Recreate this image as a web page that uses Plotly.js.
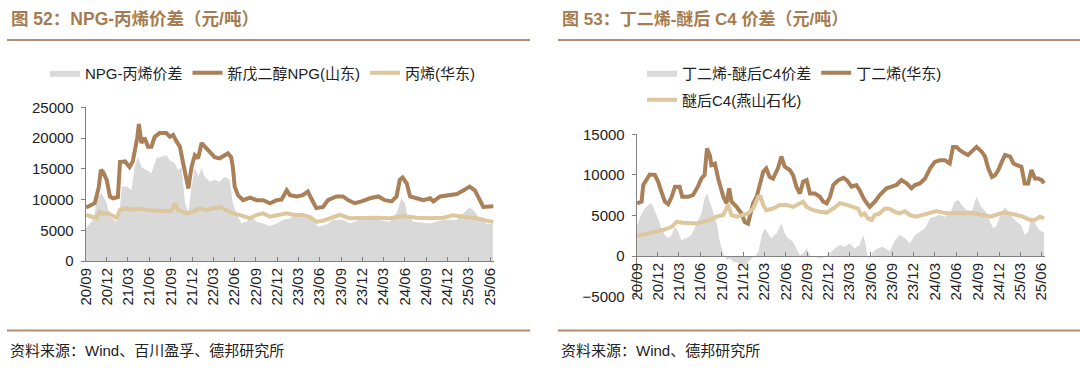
<!DOCTYPE html>
<html><head><meta charset="utf-8">
<script src="https://cdn.plot.ly/plotly-3.0.1.min.js"></script>
<style>html,body{margin:0;padding:0;background:#fff}#chart{width:1080px;height:377px}</style>
</head><body><div id="chart"></div>
<script>
// ---------- Figure 52: NPG - propylene ----------
const npgSpreadDates = ["2020-09-01","2020-10-03","2020-10-24","2020-11-08","2020-11-30","2020-12-14","2021-01-12","2021-01-22","2021-02-03","2021-02-24","2021-03-16","2021-03-30","2021-04-13","2021-04-28","2021-05-19","2021-06-10","2021-07-01","2021-07-22","2021-08-13","2021-08-28","2021-09-18","2021-10-02","2021-10-17","2021-11-01","2021-11-15","2021-11-29","2021-12-13","2021-12-27","2022-01-11","2022-01-25","2022-02-16","2022-03-08","2022-03-29","2022-04-20","2022-05-11","2022-05-25","2022-06-09","2022-07-01","2022-07-22","2022-08-13","2022-09-04","2022-10-02","2022-10-31","2022-11-29","2022-12-27","2023-01-25","2023-02-23","2023-03-21","2023-04-19","2023-05-25","2023-06-30","2023-07-28","2023-09-10","2023-10-08","2023-11-21","2024-02-01","2024-03-28","2024-04-26","2024-05-17","2024-06-01","2024-06-11","2024-07-06","2024-09-17","2024-11-13","2025-01-10","2025-02-08","2025-03-06","2025-03-28","2025-04-19","2025-05-17","2025-06-13"];
const npgSpread = [5300,6700,10500,11000,9400,7200,6400,7000,12100,12100,11500,15300,17000,15300,14800,14300,16700,17000,17200,16400,15900,14800,15300,9400,8000,12100,15300,13700,15100,13700,12900,13200,12900,13700,13200,9400,7800,6100,6400,7200,6400,6100,5700,6100,6700,6900,7800,7500,7500,5600,5900,6700,6700,6100,6700,6700,6400,7800,10200,9400,7500,6400,6100,6700,6700,7800,8700,8000,6700,6000,6100];

const npgDates = ["2020-09-03","2020-10-10","2020-10-27","2020-11-05","2020-11-14","2020-11-30","2020-12-14","2020-12-27","2021-01-17","2021-01-26","2021-02-17","2021-03-08","2021-03-22","2021-03-30","2021-04-10","2021-04-17","2021-04-28","2021-05-12","2021-05-26","2021-06-10","2021-06-24","2021-07-15","2021-08-13","2021-08-28","2021-09-11","2021-09-26","2021-10-10","2021-10-24","2021-11-08","2021-11-15","2021-11-29","2021-12-13","2021-12-27","2022-01-11","2022-01-25","2022-02-09","2022-02-23","2022-03-08","2022-03-29","2022-04-20","2022-05-04","2022-05-18","2022-05-25","2022-06-02","2022-06-16","2022-07-08","2022-08-06","2022-09-04","2022-10-02","2022-10-31","2022-11-29","2022-12-20","2023-01-11","2023-01-25","2023-02-23","2023-03-21","2023-04-12","2023-04-26","2023-05-18","2023-06-16","2023-07-07","2023-08-12","2023-09-10","2023-10-01","2023-10-30","2023-11-28","2024-01-03","2024-02-08","2024-03-07","2024-04-05","2024-04-26","2024-05-10","2024-05-22","2024-06-09","2024-06-23","2024-07-21","2024-08-19","2024-09-17","2024-10-01","2024-10-30","2024-11-28","2025-01-10","2025-02-08","2025-03-06","2025-03-28","2025-04-19","2025-05-03","2025-06-15"];
const npgPrice = [8700,9400,12000,14800,14500,13200,10500,10200,10400,16100,16200,15300,16200,17800,20000,22300,19200,20000,18600,18600,20200,20800,20800,20200,20500,19400,18600,15900,12600,11800,15300,17200,16700,19200,18600,18000,17200,16900,16700,17200,17500,16900,15300,12100,10700,9900,10300,9900,9900,9400,9900,10000,11500,10700,10500,10700,11300,10200,8600,8800,9900,10500,10500,9900,9400,9700,10200,10500,9900,9700,10500,13200,13600,12600,10500,10200,9900,10200,9700,10500,10700,10900,11500,12100,11500,9900,8800,8900];

const propyleneDates = ["2020-09-03","2020-10-03","2020-10-17","2020-11-01","2020-11-15","2020-12-06","2020-12-28","2021-01-12","2021-01-26","2021-02-24","2021-03-22","2021-04-20","2021-05-19","2021-06-17","2021-07-29","2021-08-28","2021-09-10","2021-09-18","2021-10-02","2021-11-08","2021-12-06","2022-01-04","2022-02-02","2022-03-01","2022-03-29","2022-04-27","2022-05-25","2022-06-23","2022-08-06","2022-09-04","2022-10-02","2022-10-31","2022-12-12","2023-01-11","2023-02-15","2023-03-21","2023-04-19","2023-05-18","2023-06-16","2023-07-14","2023-08-26","2023-10-08","2023-12-05","2024-02-01","2024-03-28","2024-05-24","2024-07-21","2024-09-17","2024-11-13","2024-12-24","2025-02-08","2025-04-05","2025-05-17","2025-06-15"];
const propylenePrice = [7500,7200,6950,8000,7700,7750,7300,7000,8300,8550,8300,8550,8300,8200,8050,8050,8500,9400,8300,7750,8050,8550,8300,8550,8750,8300,7750,7500,6950,7500,7750,7200,7500,7750,7500,7500,7200,6400,6550,6900,7500,6950,7050,7050,6950,7300,7050,6950,7050,7450,7200,6950,6550,6400];

// ---------- Figure 53: butadiene - ether C4 ----------
const bdSpreadDates = ["2020-09-03","2020-09-22","2020-10-06","2020-10-20","2020-11-04","2020-11-18","2020-12-02","2020-12-16","2020-12-31","2021-01-14","2021-01-29","2021-02-12","2021-02-26","2021-03-11","2021-04-02","2021-04-23","2021-05-14","2021-06-05","2021-06-19","2021-06-29","2021-07-11","2021-07-25","2021-08-09","2021-08-23","2021-09-07","2021-09-21","2021-10-05","2021-10-19","2021-11-03","2021-11-24","2021-12-08","2021-12-22","2022-01-07","2022-01-21","2022-02-04","2022-02-19","2022-03-03","2022-03-17","2022-04-01","2022-04-23","2022-05-14","2022-05-28","2022-06-11","2022-07-03","2022-07-17","2022-08-01","2022-08-15","2022-08-30","2022-09-13","2022-10-04","2022-10-26","2022-11-16","2022-12-08","2022-12-29","2023-01-20","2023-02-10","2023-03-02","2023-03-24","2023-04-14","2023-04-29","2023-05-10","2023-05-19","2023-05-27","2023-06-10","2023-07-02","2023-07-23","2023-08-21","2023-09-12","2023-10-03","2023-10-25","2023-11-15","2023-12-07","2023-12-28","2024-01-19","2024-02-10","2024-03-01","2024-03-22","2024-04-13","2024-05-04","2024-05-26","2024-06-10","2024-06-24","2024-07-15","2024-08-06","2024-08-27","2024-09-11","2024-09-25","2024-10-10","2024-10-24","2024-11-07","2024-11-22","2024-12-06","2024-12-27","2025-01-11","2025-01-25","2025-02-16","2025-03-07","2025-03-21","2025-04-05","2025-04-19","2025-05-04","2025-05-18","2025-06-02","2025-06-12"];
const bdSpread = [3800,5250,5850,6300,6500,5650,4600,3400,2600,2200,2600,3600,3000,1950,2200,2600,3800,5250,7100,7700,6700,5450,4200,1750,350,-500,-300,-700,-800,-1050,-1300,-700,-300,-100,550,2600,3400,2800,2200,2800,4000,2800,2200,1750,950,100,350,950,100,-100,-300,-100,350,950,1350,1150,1550,950,1350,2600,1350,-100,-350,550,950,1150,550,1950,2600,2200,1550,2600,3000,3400,4650,4850,5050,4850,5250,6700,6900,6300,5650,5450,7300,6300,5850,5250,4200,3400,3800,5050,6050,5450,4850,4200,3800,2600,3000,4850,4000,3400,3000,3000];

const bdDates = ["2020-09-03","2020-09-22","2020-09-29","2020-10-13","2020-10-27","2020-11-18","2020-12-02","2020-12-16","2020-12-31","2021-01-14","2021-01-29","2021-02-12","2021-03-04","2021-03-15","2021-04-09","2021-04-30","2021-05-21","2021-06-05","2021-06-19","2021-06-29","2021-07-11","2021-07-18","2021-08-02","2021-08-16","2021-09-07","2021-09-21","2021-10-02","2021-10-12","2021-11-03","2021-11-24","2021-12-08","2021-12-22","2021-12-30","2022-01-13","2022-01-28","2022-02-11","2022-02-25","2022-03-10","2022-03-24","2022-04-08","2022-04-29","2022-05-14","2022-05-28","2022-06-19","2022-07-03","2022-07-17","2022-08-01","2022-08-15","2022-08-30","2022-09-13","2022-10-04","2022-10-26","2022-11-09","2022-11-24","2022-12-08","2022-12-22","2023-01-13","2023-02-04","2023-02-18","2023-03-10","2023-03-31","2023-04-14","2023-05-05","2023-05-27","2023-06-18","2023-07-09","2023-08-07","2023-08-29","2023-09-19","2023-10-10","2023-11-01","2023-11-22","2023-12-07","2023-12-28","2024-01-19","2024-02-10","2024-03-01","2024-03-22","2024-04-13","2024-05-04","2024-05-18","2024-06-02","2024-06-16","2024-07-07","2024-07-21","2024-08-12","2024-08-27","2024-09-18","2024-10-02","2024-10-16","2024-11-01","2024-11-14","2024-11-28","2024-12-13","2024-12-27","2025-01-18","2025-02-01","2025-02-16","2025-03-07","2025-03-21","2025-04-05","2025-04-19","2025-05-04","2025-05-18","2025-06-02","2025-06-12"];
const bdPrice = [6500,6700,8750,9350,10050,10000,9150,7900,6700,6400,7300,8550,8550,7300,7300,7500,8550,9550,10000,13250,12450,11200,11400,9550,7300,6500,8350,6700,6050,5250,4200,4000,5050,6500,7300,8950,10400,10800,9750,9550,10800,12250,11000,10600,9950,8550,7700,9150,9350,7700,7700,7300,6700,6500,7300,8750,9350,9650,9350,8550,8750,8100,6900,6050,6700,7500,8350,8550,8750,9350,8950,8350,8750,8950,9550,10800,11600,11800,11800,11400,13450,13450,13050,12650,12450,13050,13450,12850,12250,10800,9750,9950,10600,11600,12450,12250,11400,11200,11000,8950,8950,10600,9550,9550,9350,8950];

const c4Dates = ["2020-09-03","2020-10-27","2020-12-23","2021-01-29","2021-02-19","2021-03-18","2021-04-16","2021-05-14","2021-06-12","2021-07-11","2021-08-09","2021-09-07","2021-09-28","2021-10-12","2021-11-03","2021-12-01","2021-12-22","2022-01-13","2022-02-04","2022-02-14","2022-02-25","2022-03-10","2022-04-08","2022-05-06","2022-06-04","2022-07-03","2022-08-01","2022-08-15","2022-08-30","2022-09-27","2022-10-26","2022-11-24","2022-12-22","2023-01-20","2023-02-18","2023-03-16","2023-04-07","2023-04-21","2023-05-05","2023-05-19","2023-06-04","2023-06-18","2023-07-09","2023-07-30","2023-08-21","2023-09-12","2023-10-03","2023-10-25","2023-11-15","2023-12-14","2024-01-12","2024-02-10","2024-03-08","2024-04-06","2024-05-04","2024-06-02","2024-07-01","2024-07-29","2024-08-27","2024-09-25","2024-10-24","2024-11-22","2024-12-20","2025-01-18","2025-02-16","2025-03-14","2025-04-12","2025-05-04","2025-05-25","2025-06-12"];
const c4Price = [2500,2800,3200,3600,4200,4100,4100,4000,4200,4450,4850,5050,6300,5050,4850,5050,5250,5850,7300,7300,6300,5650,5850,6300,6300,6050,6500,6700,6050,5650,5450,5350,5850,6500,6300,6050,5850,5050,5250,4650,4450,5050,5250,5850,5800,5450,5250,5550,5050,4850,5050,5250,5550,5350,5250,5350,5250,5350,5250,5050,4850,5050,5350,5250,5100,4850,4450,4450,4850,4650];

const FONT = "'Liberation Sans', Arial, 'Noto Sans CJK SC', sans-serif";
const BROWN = "#a98058", TAN = "#dcc79e", GREY = "#d9d9d9", TITLE = "#a57c52", RULE = "#b28f6e";
const P = (px) => px / 1080, Q = (py) => 1 - py / 377;

const traces = [
  {x: npgSpreadDates, y: npgSpread, name: "NPG-丙烯价差", type: "scatter", mode: "lines", fill: "tozeroy", fillcolor: GREY, line: {width: 0, color: GREY}, xaxis: "x", yaxis: "y", legend: "legend"},
  {x: npgDates, y: npgPrice, name: "新戊二醇NPG(山东)", type: "scatter", mode: "lines", line: {width: 4, color: BROWN}, xaxis: "x", yaxis: "y", legend: "legend"},
  {x: propyleneDates, y: propylenePrice, name: "丙烯(华东)", type: "scatter", mode: "lines", line: {width: 4, color: TAN}, xaxis: "x", yaxis: "y", legend: "legend"},
  {x: bdSpreadDates, y: bdSpread, name: "丁二烯-醚后C4价差", type: "scatter", mode: "lines", fill: "tozeroy", fillcolor: GREY, line: {width: 0, color: GREY}, xaxis: "x2", yaxis: "y2", legend: "legend2"},
  {x: bdDates, y: bdPrice, name: "丁二烯(华东)", type: "scatter", mode: "lines", line: {width: 4, color: BROWN}, xaxis: "x2", yaxis: "y2", legend: "legend2"},
  {x: c4Dates, y: c4Price, name: "醚后C4(燕山石化)", type: "scatter", mode: "lines", line: {width: 4, color: TAN}, xaxis: "x2", yaxis: "y2", legend: "legend3"}
];

const xCommon = {type: "date", dtick: "M3", tick0: "2020-09-01", tickformat: "%y/%m", tickangle: -90,
  showgrid: false, zeroline: false, showline: true, linecolor: "#808080", linewidth: 1,
  ticks: "inside", ticklen: 4, tickcolor: "#808080", tickfont: {family: FONT, size: 15, color: "#222"}, fixedrange: true};
const yCommon = {showgrid: false, zeroline: false, showline: true, linecolor: "#808080", linewidth: 1, tickformat: "d",
  ticks: "outside", ticklen: 4, tickcolor: "#808080", ticklabelstandoff: 4, tickfont: {family: FONT, size: 15, color: "#222"}, fixedrange: true};

const legendCommon = {orientation: "h", font: {family: FONT, size: 15, color: "#222"}, bgcolor: "rgba(0,0,0,0)", itemwidth: 30, xanchor: "left", yanchor: "middle", tracegroupgap: 0};

const layout = {
  width: 1080, height: 377, margin: {l: 0, r: 0, t: 0, b: 0},
  paper_bgcolor: "#fff", plot_bgcolor: "rgba(0,0,0,0)", hovermode: false,
  font: {family: FONT},
  xaxis: Object.assign({}, xCommon, {domain: [P(85.7), P(494)], range: ["2020-09-01", "2025-06-18"], anchor: "y"}),
  yaxis: Object.assign({}, yCommon, {domain: [Q(261), Q(107.3)], range: [0, 25000], dtick: 5000, anchor: "x"}),
  xaxis2: Object.assign({}, xCommon, {domain: [P(636.7), P(1045)], range: ["2020-09-01", "2025-06-16"], anchor: "free", position: Q(256)}),
  yaxis2: Object.assign({}, yCommon, {domain: [Q(296.6), Q(134.3)], range: [-5000, 15000], dtick: 5000, anchor: "x2"}),
  legend: Object.assign({}, legendCommon, {x: P(45), y: Q(73)}),
  legend2: Object.assign({}, legendCommon, {x: P(642), y: Q(73)}),
  legend3: Object.assign({}, legendCommon, {x: P(642), y: Q(100)}),
  shapes: [
    {type: "line", xref: "paper", yref: "paper", x0: P(7), x1: P(530), y0: Q(40), y1: Q(40), line: {color: RULE, width: 2}},
    {type: "line", xref: "paper", yref: "paper", x0: P(558), x1: P(1080), y0: Q(40), y1: Q(40), line: {color: RULE, width: 2}},
    {type: "line", xref: "paper", yref: "paper", x0: P(7), x1: P(530), y0: Q(330.5), y1: Q(330.5), line: {color: RULE, width: 2}},
    {type: "line", xref: "paper", yref: "paper", x0: P(558), x1: P(1080), y0: Q(330.5), y1: Q(330.5), line: {color: RULE, width: 2}}
  ],
  annotations: [
    {text: "<b>图 52：NPG-丙烯价差（元/吨）</b>", xref: "paper", yref: "paper", x: P(9), y: Q(19), xanchor: "left", yanchor: "middle", showarrow: false, font: {family: FONT, size: 17.5, color: TITLE}},
    {text: "<b>图 53：丁二烯-醚后 C4 价差（元/吨）</b>", xref: "paper", yref: "paper", x: P(560), y: Q(19), xanchor: "left", yanchor: "middle", showarrow: false, font: {family: FONT, size: 17, color: TITLE}},
    {text: "资料来源：Wind、百川盈孚、德邦研究所", xref: "paper", yref: "paper", x: P(8), y: Q(350), xanchor: "left", yanchor: "middle", showarrow: false, font: {family: FONT, size: 15, color: "#222"}},
    {text: "资料来源：Wind、德邦研究所", xref: "paper", yref: "paper", x: P(559), y: Q(350), xanchor: "left", yanchor: "middle", showarrow: false, font: {family: FONT, size: 15, color: "#222"}}
  ]
};

Plotly.newPlot("chart", traces, layout, {displayModeBar: false, staticPlot: true});
</script>
</body></html>
